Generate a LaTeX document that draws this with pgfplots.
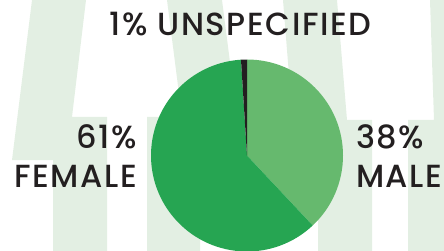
\documentclass[border=0pt]{standalone}
\usepackage{pgfplots}
\usepackage{pgfplotstable}
\pgfplotsset{compat=1.18}
\usepackage{fontspec}
\setmainfont{Poppins}[UprightFont=* Medium, LetterSpace=5]
\definecolor{bgg}{RGB}{227,239,227}
\definecolor{dg}{RGB}{38,165,82}
\definecolor{lg}{RGB}{102,185,110}
\definecolor{blk}{RGB}{35,31,32}
\pgfplotstableread{
label share
Male 38
Female 61
Unspecified 1
}\piedata
\begin{document}
\begin{tikzpicture}
\begin{axis}[width=444pt,height=251pt,scale only axis,
  xmin=0,xmax=444,ymin=0,ymax=251,y dir=reverse,axis lines=none]
% background decoration
\fill[bgg] (axis cs:32,0) -- (axis cs:86,0) -- (axis cs:72,117) -- (axis cs:107,117) -- (axis cs:107,251) -- (axis cs:53,251) -- (axis cs:53,160) -- (axis cs:12,160) -- cycle;
\fill[bgg] (axis cs:167,0) -- (axis cs:222,0) -- (axis cs:240,140) -- (axis cs:200,140) -- (axis cs:200,251) -- (axis cs:147,251) -- (axis cs:147,117) -- (axis cs:182,117) -- cycle;
\fill[bgg] (axis cs:283,0) -- (axis cs:337,0) -- (axis cs:347,120) -- (axis cs:372,120) -- (axis cs:372,251) -- (axis cs:318,251) -- (axis cs:318,150) -- (axis cs:295,150) -- cycle;
\fill[bgg] (axis cs:430,0) -- (axis cs:444,0) -- (axis cs:444,251) -- (axis cs:408,251) -- (axis cs:408,120) -- (axis cs:434,120) -- cycle;
% pie
\pgfplotstablegetelem{0}{share}\of\piedata \pgfmathsetmacro{\sA}{\pgfplotsretval}
\pgfplotstablegetelem{1}{share}\of\piedata \pgfmathsetmacro{\sB}{\pgfplotsretval}
\pgfplotstablegetelem{2}{share}\of\piedata \pgfmathsetmacro{\sC}{\pgfplotsretval}
\pgfmathsetmacro{\aA}{90-3.6*\sA}
\pgfmathsetmacro{\aB}{\aA-3.6*\sB}
\pgfmathsetmacro{\aC}{\aB-3.6*\sC}
\fill[lg] (axis cs:247,155.5) -- ++(90:96pt) arc[start angle=90,end angle=\aA,radius=96pt] -- cycle;
\fill[dg] (axis cs:247,155.5) -- ++(\aA:96pt) arc[start angle=\aA,end angle=\aB,radius=96pt] -- cycle;
\fill[blk] (axis cs:247,155.5) -- ++(\aB:96pt) arc[start angle=\aB,end angle=\aC,radius=96pt] -- cycle;
% labels
\node[anchor=base,text=blk,font=\fontsize{32}{32}\selectfont,inner sep=0pt] at (axis cs:240.5,36) {1\% UNSPECIFIED};
\node[anchor=base east,text=blk,font=\fontsize{32}{32}\selectfont,inner sep=0pt] at (axis cs:137,148) {61\%};
\node[anchor=base east,text=blk,font=\fontsize{32}{32}\selectfont,inner sep=0pt] at (axis cs:137,187) {FEMALE};
\node[anchor=base west,text=blk,font=\fontsize{32}{32}\selectfont,inner sep=0pt] at (axis cs:356,148) {38\%};
\node[anchor=base west,text=blk,font=\fontsize{32}{32}\selectfont,inner sep=0pt] at (axis cs:356,187) {MALE};
\end{axis}
\pgfresetboundingbox
\useasboundingbox (current axis.south west) rectangle (current axis.north east);
\end{tikzpicture}
\end{document}
